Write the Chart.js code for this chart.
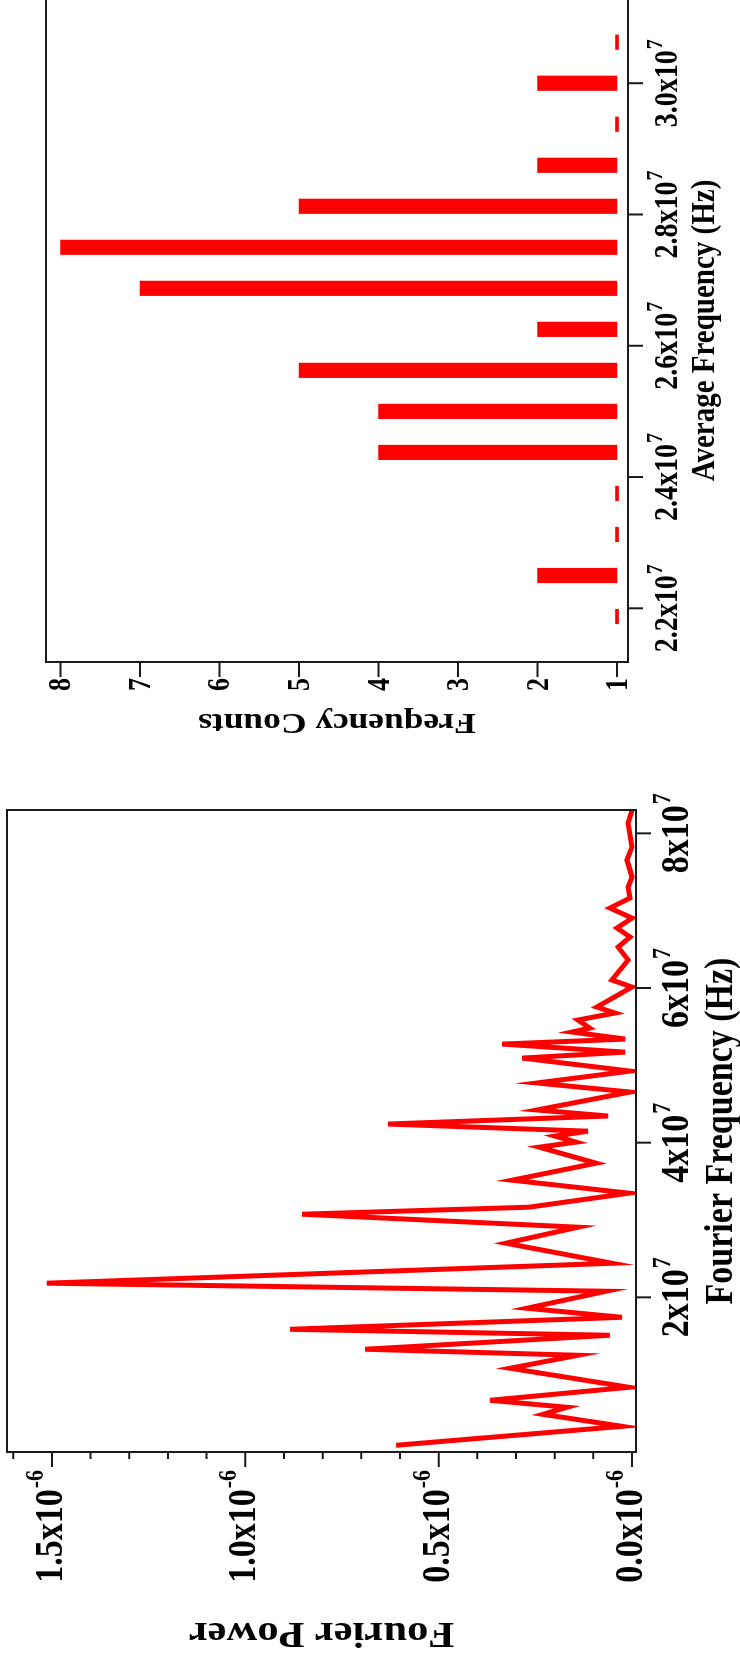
<!DOCTYPE html>
<html>
<head>
<meta charset="utf-8">
<script src="https://cdn.jsdelivr.net/npm/chart.js@4.4.1/dist/chart.umd.min.js"></script>
<style>
  html, body { margin: 0; padding: 0; background: #fff; width: 740px; height: 1663px; overflow: hidden; }
  /* the sheet is laid out landscape and turned a quarter turn */
  #sheet { position: absolute; left: 0; top: 0; width: 1663px; height: 740px;
           transform-origin: 0 0; transform: translate(0, 1663px) rotate(-90deg); }
  #power { position: absolute; left: 0; top: 0; width: 880px; height: 740px; }
  #counts { position: absolute; left: 900px; top: 0; width: 800px; height: 740px; }
</style>
</head>
<body>
<div id="sheet">
  <canvas id="power" width="880" height="740"></canvas>
  <canvas id="counts" width="800" height="740"></canvas>
</div>
<script>
// Fourier spectrum
const fourierFreq = [
  0.087e7, 0.332e7, 0.487e7, 0.578e7, 0.669e7, 0.837e7, 1.083e7, 1.251e7, 1.329e7, 1.510e7,
  1.587e7, 1.742e7, 1.859e7, 2.079e7, 2.183e7, 2.441e7, 2.700e7, 2.907e7, 3.075e7, 3.166e7,
  3.347e7, 3.515e7, 3.735e7, 3.942e7, 4.007e7, 4.085e7, 4.149e7, 4.241e7, 4.345e7, 4.423e7,
  4.655e7, 4.772e7, 4.926e7, 5.094e7, 5.171e7, 5.275e7, 5.340e7, 5.431e7, 5.482e7, 5.586e7,
  5.677e7, 5.754e7, 6.013e7, 6.103e7, 6.362e7, 6.530e7, 6.659e7, 6.776e7, 6.905e7, 7.034e7,
  7.164e7, 7.306e7, 7.435e7, 7.655e7, 7.823e7, 8.133e7, 8.301e7
];
const fourierPower = [
  0.610e-6, 0.026e-6, 0.230e-6, 0.168e-6, 0.367e-6, 0.008e-6, 0.315e-6, 0.140e-6, 0.690e-6, 0.057e-6,
  0.884e-6, 0.026e-6, 0.272e-6, 0.067e-6, 1.513e-6, 0.052e-6, 0.326e-6, 0.140e-6, 0.853e-6, 0.266e-6,
  0.008e-6, 0.310e-6, 0.093e-6, 0.240e-6, 0.145e-6, 0.199e-6, 0.114e-6, 0.631e-6, 0.062e-6, 0.246e-6,
  0.005e-6, 0.246e-6, 0.005e-6, 0.284e-6, 0.018e-6, 0.336e-6, 0.018e-6, 0.155e-6, 0.109e-6, 0.140e-6,
  0.044e-6, 0.091e-6, 0.000e-6, 0.052e-6, 0.010e-6, 0.036e-6, 0.005e-6, 0.039e-6, 0.000e-6, 0.057e-6,
  0.005e-6, 0.010e-6, 0.000e-6, 0.013e-6, 0.000e-6, 0.010e-6, 0.000e-6
];

// histogram of average frequencies
const avgFreq = [2.1875e7, 2.25e7, 2.3125e7, 2.375e7, 2.4375e7, 2.5e7, 2.5625e7, 2.625e7,
                 2.6875e7, 2.75e7, 2.8125e7, 2.875e7, 2.9375e7, 3.0e7, 3.0625e7];
const freqCounts = [1, 2, 1, 1, 4, 4, 5, 2, 7, 8, 5, 2, 1, 2, 1];

// tick labels (mantissas; the power of ten is drawn as a superscript)
const fourierFreqTicks = ['2', '4', '6', '8'];            // x10^7
const powerTicks = ['0.0', '0.5', '1.0', '1.5'];          // x10^-6
const avgFreqTicks = ['2.2', '2.4', '2.6', '2.8', '3.0']; // x10^7
const countTicks = ['1', '2', '3', '4', '5', '6', '7', '8'];

const S = 1.18;  // glyphs are a bit taller than wide on this sheet
const FONT = '"Liberation Serif", "Times New Roman", serif';

function text(ctx, str, x, y, px, align = 'left', rot = 0) {
  ctx.save();
  ctx.translate(x, y);
  ctx.scale(1, S);
  if (rot) ctx.rotate(rot);
  ctx.font = `bold ${px}px ${FONT}`;
  ctx.textAlign = align;
  ctx.textBaseline = 'alphabetic';
  ctx.fillStyle = '#000';
  ctx.fillText(str, 0, 0);
  ctx.restore();
}

// "m x10^e" with a raised, smaller exponent
function sci(ctx, mant, exp, x, y, f, align) {
  const base = mant + 'x10';
  ctx.save();
  ctx.font = `bold ${f.px}px ${FONT}`;
  const wm = ctx.measureText(base).width;
  ctx.font = `bold ${f.sup}px ${FONT}`;
  const we = ctx.measureText(exp).width;
  ctx.restore();
  const w = wm + 1 + we;
  const x0 = align === 'right' ? x - w : align === 'center' ? x - w / 2 : x;
  text(ctx, base, x0, y, f.px);
  text(ctx, exp, x0 + wm + 1, y - f.rise, f.sup);
}

// frame, tick marks, tick labels and titles
const axesDeco = {
  id: 'axesDeco',
  afterDraw(chart, args, o) {
    const { ctx, chartArea: a, scales: { x, y } } = chart;
    ctx.save();
    ctx.strokeStyle = '#1a1a1a';
    ctx.lineWidth = 2;
    ctx.strokeRect(a.left, a.top, a.right - a.left, a.bottom - a.top);
    ctx.beginPath();
    o.xTicks.forEach(v => {
      const px = x.getPixelForValue(v);
      ctx.moveTo(px, a.bottom); ctx.lineTo(px, a.bottom + o.tickLen);
    });
    o.yTicks.forEach(v => {
      const py = y.getPixelForValue(v);
      ctx.moveTo(a.left, py); ctx.lineTo(a.left - o.tickLen, py);
    });
    (o.yMinor || []).forEach(v => {
      const py = y.getPixelForValue(v);
      ctx.moveTo(a.left, py); ctx.lineTo(a.left - o.minorLen, py);
    });
    ctx.stroke();
    ctx.restore();

    o.xLabels.forEach((m, i) => {
      sci(ctx, m, o.xExp, x.getPixelForValue(o.xTicks[i]), o.xLabelY, o.xFont, 'center');
    });
    o.yLabels.forEach((m, i) => {
      const py = y.getPixelForValue(o.yTicks[i]) + o.yDrop;
      if (o.yExp) sci(ctx, m, o.yExp, o.yLabelX, py, o.yFont, 'right');
      else text(ctx, m, o.yLabelX, py, o.yFont.px, 'right');
    });
    text(ctx, o.xTitle, (a.left + a.right) / 2, o.xTitleY, o.xTitleFont, 'center');
    text(ctx, o.yTitle, o.yTitleX, (a.top + a.bottom) / 2, o.yTitleFont, 'center', -Math.PI / 2);
  }
};

const hidden = { ticks: { display: false }, grid: { display: false }, border: { display: false } };

const powerMinor = [];
for (let i = 1; i <= 16; i++) if (i % 5) powerMinor.push(i * 1e-7);

new Chart(document.getElementById('power'), {
  type: 'line',
  data: {
    datasets: [{
      data: fourierFreq.map((f, i) => ({ x: f, y: fourierPower[i] })),
      borderColor: '#ff0000',
      borderWidth: 5,
      pointRadius: 0,
      tension: 0
    }]
  },
  options: {
    responsive: false,
    animation: false,
    layout: { padding: { top: 7, right: 27, left: 0, bottom: 0 } },
    plugins: {
      legend: { display: false },
      tooltip: { enabled: false },
      axesDeco: {
        tickLen: 15, minorLen: 7,
        xTicks: fourierFreqTicks.map(v => parseFloat(v) * 1e7),
        xLabels: fourierFreqTicks, xExp: '7', xLabelY: 688,
        xFont: { px: 34, sup: 22, rise: 18 },
        yTicks: powerTicks.map(v => parseFloat(v) * 1e-6),
        yMinor: powerMinor,
        yLabels: powerTicks, yExp: '-6', yLabelX: 193, yDrop: 10,
        yFont: { px: 34, sup: 22, rise: 19 },
        xTitle: 'Fourier Frequency (Hz)', xTitleY: 732, xTitleFont: 34,
        yTitle: 'Fourier Power', yTitleX: 40, yTitleFont: 36
      }
    },
    scales: {
      x: { type: 'linear', min: 0, max: 8.302e7, ...hidden, afterFit: s => { s.height = 104; } },
      y: { type: 'linear', min: -0.0103e-6, max: 1.6162e-6, ...hidden, afterFit: s => { s.width = 211; } }
    }
  },
  plugins: [axesDeco]
});

new Chart(document.getElementById('counts'), {
  type: 'bar',
  data: {
    datasets: [{
      data: avgFreq.map((f, i) => ({ x: f, y: freqCounts[i] })),
      base: 1,
      backgroundColor: '#ff0000',
      borderWidth: 0,
      barThickness: 14.5,
      minBarLength: 3
    }]
  },
  options: {
    responsive: false,
    animation: false,
    layout: { padding: { top: 46, right: 36, left: 0, bottom: 0 } },
    plugins: {
      legend: { display: false },
      tooltip: { enabled: false },
      axesDeco: {
        tickLen: 15,
        xTicks: avgFreqTicks.map(v => parseFloat(v) * 1e7),
        xLabels: avgFreqTicks, xExp: '7', xLabelY: 677,
        xFont: { px: 28, sup: 20, rise: 15 },
        yTicks: countTicks.map(Number),
        yLabels: countTicks, yExp: '', yLabelX: 85, yDrop: 10,
        yFont: { px: 26 },
        xTitle: 'Average Frequency (Hz)', xTitleY: 714, xTitleFont: 29,
        yTitle: 'Frequency Counts', yTitleX: 49, yTitleFont: 30
      }
    },
    scales: {
      x: { type: 'linear', min: 2.1743e7, max: 3.0722e7, ...hidden, afterFit: s => { s.height = 112; } },
      y: { type: 'linear', min: 0.862, max: 8.182, ...hidden, afterFit: s => { s.width = 101; } }
    }
  },
  plugins: [axesDeco]
});
</script>
</body>
</html>
